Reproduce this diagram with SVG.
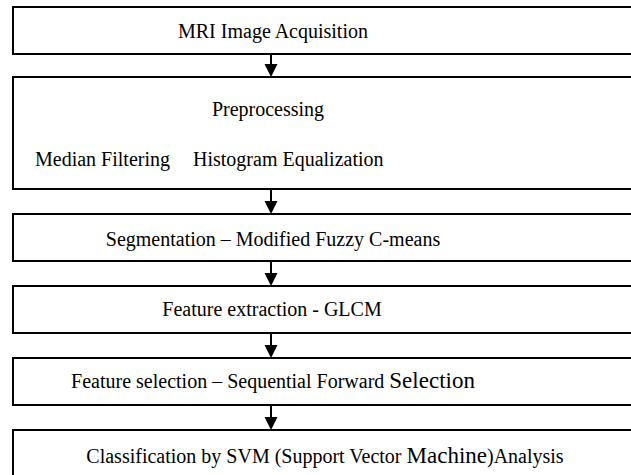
<svg xmlns="http://www.w3.org/2000/svg" width="631" height="475" viewBox="0 0 631 475">
  <style>
    .box { fill: #ffffff; stroke: #000000; stroke-width: 2; }
    .lbl { font-family: "Liberation Serif", "Times New Roman", serif; font-size: 20px; fill: #000000; }
    .mid { text-anchor: middle; }
    .big { font-size: 23px; }
    .conn { stroke: #000000; stroke-width: 2; fill: none; }
    .head { fill: #000000; stroke: none; }
  </style>
  <defs>
    <!-- arrowhead pointing down, tip at origin -->
    <path id="head" class="head" d="M-6.5,-13 L6.5,-13 L0,0 z"/>
  </defs>
  <rect width="631" height="475" fill="#ffffff"/>

  <g id="connectors">
    <line class="conn" x1="271" y1="54" x2="271" y2="66"/>
    <use href="#head" x="271" y="77"/>
    <line class="conn" x1="271" y1="189" x2="271" y2="203"/>
    <use href="#head" x="271" y="214"/>
    <line class="conn" x1="271" y1="261" x2="271" y2="275"/>
    <use href="#head" x="271" y="286"/>
    <line class="conn" x1="271" y1="333" x2="271" y2="347"/>
    <use href="#head" x="271" y="358"/>
    <line class="conn" x1="271" y1="405" x2="271" y2="419"/>
    <use href="#head" x="271" y="430"/>
  </g>

  <g id="acquisition">
    <rect class="box" x="13" y="7" width="640" height="47"/>
    <text class="lbl mid" x="273" y="38">MRI Image Acquisition</text>
  </g>

  <g id="preprocessing">
    <rect class="box" x="13" y="77" width="640" height="112"/>
    <text class="lbl mid" x="268" y="116">Preprocessing</text>
    <text class="lbl" x="35" y="166">Median Filtering</text>
    <text class="lbl" x="193" y="166">Histogram Equalization</text>
  </g>

  <g id="segmentation">
    <rect class="box" x="13" y="214" width="640" height="47"/>
    <text class="lbl mid" x="273" y="246">Segmentation – Modified Fuzzy C-means</text>
  </g>

  <g id="extraction">
    <rect class="box" x="13" y="286" width="640" height="47"/>
    <text class="lbl mid" x="272" y="316">Feature extraction - GLCM</text>
  </g>

  <g id="selection">
    <rect class="box" x="13" y="358" width="640" height="47"/>
    <text class="lbl mid" x="273" y="388">Feature selection – Sequential Forward <tspan class="big">Selection</tspan></text>
  </g>

  <g id="classification">
    <rect class="box" x="13" y="430" width="640" height="80"/>
    <text class="lbl mid" x="325" y="463">Classification by SVM (Support Vector <tspan class="big">Machine</tspan>)Analysis</text>
  </g>
</svg>
